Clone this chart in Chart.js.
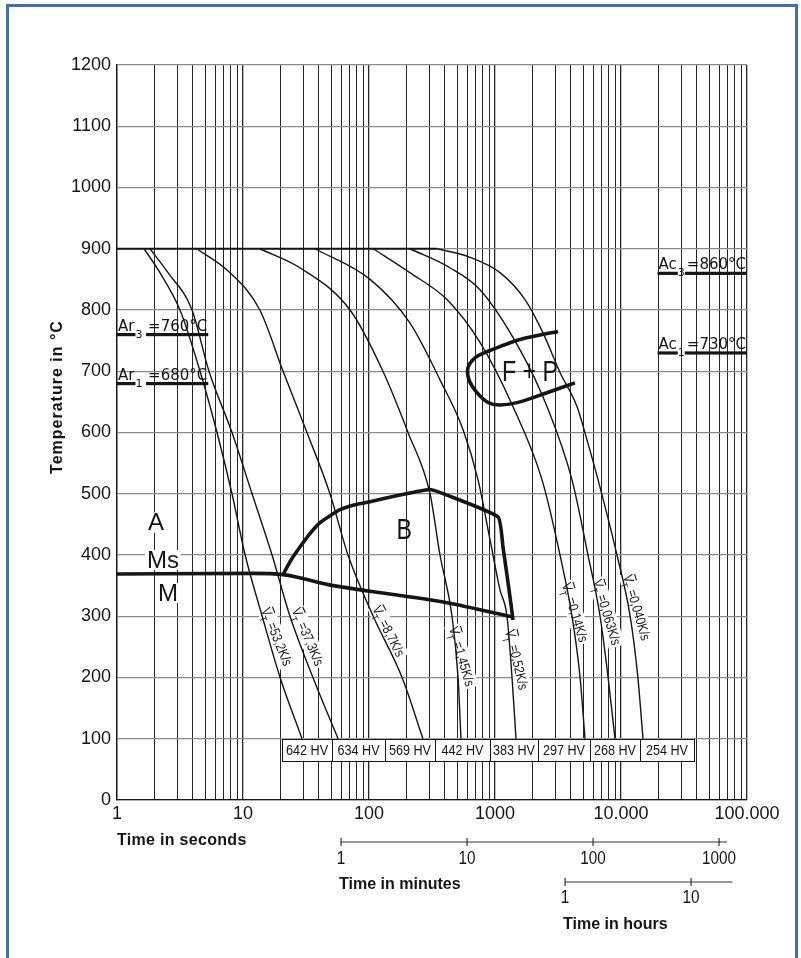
<!DOCTYPE html>
<html>
<head>
<meta charset="utf-8">
<script src="https://cdn.jsdelivr.net/npm/chart.js@4.4.1/dist/chart.umd.min.js"></script>
<style>
html, body { margin: 0; padding: 0; background: #fff; }
#wrap { position: relative; width: 801px; height: 958px; overflow: hidden; }
#frame { position: absolute; left: 6px; top: 4px; width: 792px; height: 990px; border: 3px solid #3f6fb5; box-sizing: border-box; pointer-events: none; }
</style>
</head>
<body>
<div id="wrap">
  <canvas id="cct"></canvas>
  <div id="frame"></div>
</div>
<script>
// axes
const xTicks = [1, 10, 100, 1000, 10000, 100000];
const xTickLabels = ['1', '10', '100', '1000', '10.000', '100.000'];
const yMax = 1200;
const yStep = 100;

// cooling curves: time in s, temperature in °C
const c1t = [1.64, 2.19, 3.16, 4.56, 6.22, 8.18, 10.4, 14.2, 19.7, 29.4];
const c1T = [900, 861, 800, 700, 600, 500, 400, 300, 200, 100];
const c2t = [1.83, 2.54, 3.94, 5.37, 8.18, 11.8, 17.0, 23.6, 35.9, 56.8];
const c2T = [900, 861, 800, 700, 600, 500, 400, 300, 200, 100];
const c3t = [4.31, 7.88, 13.6, 20.8, 32.2, 49.0, 68.1, 108, 183, 268];
const c3T = [900, 861, 800, 700, 600, 500, 400, 300, 200, 100];
const c4t = [13.6, 28.3, 70.7, 129, 204, 305, 366, 456, 509, 537];
const c4T = [900, 869, 800, 700, 600, 500, 400, 300, 200, 100];
const c5t = [37.3, 102, 211, 366, 557, 733, 913, 1096, 1245, 1364, 1468];
const c5T = [900, 850, 779, 686, 605, 523, 425, 343, 300, 201, 100];
const c6t = [108, 211, 416, 760, 1390, 2360, 3280, 4080, 4730, 5180];
const c6T = [900, 861, 817, 747, 642, 523, 400, 301, 201, 100];
const c7t = [211, 439, 760, 1580, 2590, 4080, 5470, 6810, 7890, 8960];
const c7T = [900, 869, 833, 735, 642, 523, 400, 301, 201, 100];
const c8t = [347, 634, 1096, 1730, 2400, 3280, 4480, 5370, 6570, 9290, 11800, 13600, 14950];
const c8T = [900, 886, 861, 817, 763, 698, 642, 588, 523, 400, 301, 201, 100];

// austenitising hold at 900 °C
const holdT = [1, 347];
const holdC = [900, 900];

// martensite start
const msT = [1, 12, 20.8, 52, 176, 416, 1364];
const msC = [369, 370, 368, 350, 334, 322, 299];

// bainite field boundary
const bT = [20.8, 23.6, 28.3, 34.0, 40.8, 49.0, 58.9, 77.4, 102, 176, 232, 305, 401, 1057, 1157, 1315, 1390];
const bC = [368, 389, 413, 435, 453, 464, 474, 482, 487, 498, 503, 507, 499, 462, 413, 332, 294];

// ferrite + pearlite field
const fpT = [3160, 1580, 864, 694, 611, 622, 720, 880, 1096, 1580, 2590, 4310];
const fpC = [765, 752, 732, 722, 706, 686, 665, 649, 645, 650, 665, 681];

// cooling rates and hardness
const rates = ['=53,2K/s', '=37,3K/s', '=8,7K/s', '=1,45K/s', '=0,52K/s', '=0,14K/s', '=0,063K/s', '=0,040K/s'];
const rateAtT = [18.3, 32.2, 141, 537, 1468, 4240, 7600, 13150];
const rateAtC = [266, 266, 275, 234, 229, 306, 306, 314];
const rateAngle = [68, 67, 63, 74, 77, 73, 73, 74];
const hardness = ['642 HV', '634 HV', '569 HV', '442 HV', '383 HV', '297 HV', '268 HV', '254 HV'];
const hvEdges = [20.4, 50.9, 134, 334, 913, 2190, 5670, 14150, 37950];
const hvTop = 100, hvBottom = 64;

// critical temperatures
const critName = ['Ar', 'Ar', 'Ac', 'Ac'];
const critSub = ['3', '1', '3', '1'];
const critText = ['=760°C', '=680°C', '=860°C', '=730°C'];
const critC = [760, 680, 860, 730];
const critFrom = [1, 1, 19500, 19500];
const critTo = [5.3, 5.3, 100000, 100000];

// phase letters
const phaseText = ['A', 'Ms', 'M'];
const phaseT = [2.04, 2.32, 2.54];
const phaseC = [453, 392, 338];
const bigText = ['B', 'F + P'];
const bigT = [190, 1896];
const bigC = [441, 699];

// secondary time scales
const minTicks = [1, 10, 100, 1000];
const minEnd = 1158;
const hourTicks = [1, 10];
const hourEnd = 21.3;

const SANS = '"Liberation Sans", Arial, sans-serif';
const INK = '#151515';

function pts(ts, cs) { return ts.map((t, i) => ({ x: t, y: cs[i] })); }

const curves = [[c1t, c1T], [c2t, c2T], [c3t, c3T], [c4t, c4T], [c5t, c5T], [c6t, c6T], [c7t, c7T], [c8t, c8T]];
const datasets = curves.map(c => ({
  data: pts(c[0], c[1]), borderColor: INK, borderWidth: 1.4,
  cubicInterpolationMode: 'monotone'
}));
datasets.push({ data: pts(holdT, holdC), borderColor: INK, borderWidth: 1.8, tension: 0 });
datasets.push({ data: pts(msT, msC), borderColor: INK, borderWidth: 3.6, cubicInterpolationMode: 'monotone' });
datasets.push({ data: pts(bT, bC), borderColor: INK, borderWidth: 3.6, tension: 0.15, borderJoinStyle: 'round' });
datasets.push({ data: pts(fpT, fpC), borderColor: INK, borderWidth: 3.6, tension: 0.3 });

// condensed text by squeezing the canvas horizontally
function narrow(ctx, txt, x, y, sx) {
  ctx.save();
  ctx.translate(x, y);
  ctx.scale(sx, 1);
  ctx.fillText(txt, 0, 0);
  ctx.restore();
}

function drawRate(ctx, px, py, ang, txt) {
  const sq = 0.82;
  ctx.save();
  ctx.translate(px, py);
  ctx.rotate(ang * Math.PI / 180);
  ctx.font = '14px ' + SANS;
  const wV = ctx.measureText('V').width * sq;
  const wR = ctx.measureText(txt).width * sq;
  ctx.font = '10px ' + SANS;
  const wT = ctx.measureText('T').width * sq;
  const total = wV + wT + 3 + wR;
  const sx = -total / 2;
  ctx.fillStyle = '#fff';
  ctx.fillRect(sx - 2, -9, total + 4, 17);
  ctx.fillStyle = INK;
  ctx.textAlign = 'left';
  ctx.textBaseline = 'middle';
  ctx.font = '14px ' + SANS;
  narrow(ctx, 'V', sx, 0, sq);
  ctx.fillRect(sx + 1, -8.5, wV - 1, 1.1);
  narrow(ctx, txt, sx + wV + wT + 3, 0, sq);
  ctx.font = '10px ' + SANS;
  narrow(ctx, 'T', sx + wV - 1, 6, sq);
  ctx.restore();
}

const overlay = {
  id: 'overlay',
  beforeDatasetsDraw(chart) {
    const { ctx, scales: { x, y } } = chart;
    ctx.save();
    // hardness boxes
    const top = y.getPixelForValue(hvTop), bot = y.getPixelForValue(hvBottom);
    hardness.forEach((h, i) => {
      const l = x.getPixelForValue(hvEdges[i]), r = x.getPixelForValue(hvEdges[i + 1]);
      ctx.fillStyle = '#fff';
      ctx.fillRect(l, top, r - l, bot - top);
      ctx.strokeStyle = INK; ctx.lineWidth = 1;
      ctx.strokeRect(Math.round(l) + 0.5, Math.round(top) + 0.5, Math.round(r - l), Math.round(bot - top));
      ctx.fillStyle = INK;
      ctx.font = '14px ' + SANS;
      ctx.textAlign = 'center'; ctx.textBaseline = 'middle';
      narrow(ctx, h, (l + r) / 2, (top + bot) / 2 + 1, 0.9);
    });
    // cooling rate labels
    rates.forEach((r, i) => {
      drawRate(ctx, x.getPixelForValue(rateAtT[i]), y.getPixelForValue(rateAtC[i]), rateAngle[i], r);
    });
    // A / Ms / M
    ctx.font = '24px ' + SANS;
    ctx.textAlign = 'center'; ctx.textBaseline = 'middle';
    phaseText.forEach((p, i) => {
      const px = x.getPixelForValue(phaseT[i]), py = y.getPixelForValue(phaseC[i]);
      const w = ctx.measureText(p).width;
      ctx.fillStyle = '#fff';
      ctx.fillRect(px - w / 2 - 2, py - 10, w + 4, 20);
      ctx.fillStyle = INK;
      ctx.fillText(p, px, py + 1);
    });
    ctx.restore();
  },
  afterDraw(chart) {
    const { ctx, chartArea: ca, scales: { x, y } } = chart;
    ctx.save();
    ctx.fillStyle = INK;
    ctx.strokeStyle = INK;
    // B and F + P
    ctx.font = '29px ' + SANS;
    ctx.textAlign = 'center'; ctx.textBaseline = 'middle';
    bigText.forEach((b, i) => narrow(ctx, b, x.getPixelForValue(bigT[i]), y.getPixelForValue(bigC[i]) + 1, 0.8));
    // critical temperatures
    critName.forEach((n, i) => {
      const xl = x.getPixelForValue(critFrom[i]), xr = x.getPixelForValue(critTo[i]);
      const py = y.getPixelForValue(critC[i]);
      ctx.textBaseline = 'alphabetic';
      ctx.font = '15px "DejaVu Sans", sans-serif';
      ctx.textAlign = 'left';
      ctx.fillText(n, xl + 1, py - 4);
      const wN = ctx.measureText(n).width;
      ctx.fillRect(xl, py - 1.5, wN + 2, 3.2);
      ctx.textAlign = 'right';
      ctx.fillText(critText[i], xr - 1, py - 4);
      const wR = ctx.measureText(critText[i]).width;
      ctx.fillRect(xr - wR - 3, py - 1.5, wR + 3, 3.2);
      ctx.font = '11px "DejaVu Sans", sans-serif';
      ctx.textAlign = 'left';
      ctx.fillText(critSub[i], xl + wN + 2, py + 3);
    });
    // axis titles
    ctx.font = 'bold 16px ' + SANS;
    ctx.textBaseline = 'middle';
    ctx.textAlign = 'left';
    ctx.letterSpacing = '0.3px';
    ctx.fillText('Time in seconds', ca.left, ca.bottom + 41);
    ctx.save();
    ctx.translate(ca.left - 59, ca.top + 332);
    ctx.rotate(-Math.PI / 2);
    ctx.textAlign = 'center';
    ctx.letterSpacing = '1px';
    ctx.fillText('Temperature in °C', 0, 0);
    ctx.restore();
    // minutes scale
    const my = ca.bottom + 42;
    const m0 = x.getPixelForValue(minTicks[0] * 60), m1 = x.getPixelForValue(minEnd * 60);
    ctx.lineWidth = 1.2;
    ctx.strokeStyle = '#333';
    ctx.beginPath(); ctx.moveTo(m0, my); ctx.lineTo(m1, my); ctx.stroke();
    ctx.font = '18px ' + SANS;
    ctx.textAlign = 'center';
    ctx.letterSpacing = '0px';
    minTicks.forEach(m => {
      const px = x.getPixelForValue(m * 60);
      ctx.beginPath(); ctx.moveTo(px, my - 4); ctx.lineTo(px, my + 4); ctx.stroke();
      narrow(ctx, String(m), px, my + 17, 0.85);
    });
    ctx.font = 'bold 16px ' + SANS;
    ctx.textAlign = 'left';
    ctx.fillText('Time in minutes', m0 - 2, my + 43);
    // hours scale
    const hy = ca.bottom + 82;
    const h0 = x.getPixelForValue(hourTicks[0] * 3600), h1 = x.getPixelForValue(hourEnd * 3600);
    ctx.beginPath(); ctx.moveTo(h0, hy); ctx.lineTo(h1, hy); ctx.stroke();
    ctx.font = '18px ' + SANS;
    ctx.textAlign = 'center';
    hourTicks.forEach(h => {
      const px = x.getPixelForValue(h * 3600);
      ctx.beginPath(); ctx.moveTo(px, hy - 4); ctx.lineTo(px, hy + 4); ctx.stroke();
      narrow(ctx, String(h), px, hy + 16, 0.85);
    });
    ctx.font = 'bold 16px ' + SANS;
    ctx.textAlign = 'left';
    ctx.fillText('Time in hours', h0 - 2, hy + 43);
    ctx.restore();
  }
};

new Chart(document.getElementById('cct'), {
  type: 'scatter',
  data: { datasets },
  options: {
    responsive: true,
    maintainAspectRatio: false,
    animation: false,
    showLine: true,
    elements: { point: { radius: 0, hoverRadius: 0 } },
    layout: { padding: { left: 0, top: 65, right: 54, bottom: 0 } },
    plugins: { legend: { display: false }, tooltip: { enabled: false } },
    scales: {
      x: {
        type: 'logarithmic',
        min: 1, max: 100000,
        afterBuildTicks: s => {
          const t = [];
          for (let e = 0; e < 5; e++) for (let m = 1; m < 10; m++) t.push({ value: m * Math.pow(10, e) });
          t.push({ value: 100000 });
          s.ticks = t;
        },
        afterFit: s => { s.height = 158; },
        ticks: {
          autoSkip: false, maxRotation: 0, padding: 3,
          color: INK, font: { family: SANS, size: 18 },
          callback: v => { const i = xTicks.indexOf(v); return i >= 0 ? xTickLabels[i] : ''; }
        },
        grid: {
          drawTicks: false,
          color: '#262626',
          lineWidth: c => (c.tick && xTicks.includes(c.tick.value)) ? 1.3 : 1
        },
        border: { color: INK, width: 1.3 }
      },
      y: {
        min: 0, max: yMax,
        afterFit: s => { s.width = 117; },
        ticks: {
          stepSize: yStep, padding: 6, color: INK, font: { family: SANS, size: 18 },
          callback: v => String(v)
        },
        grid: { drawTicks: false, color: '#8a8a8a', lineWidth: 1.3 },
        border: { color: INK, width: 1.3 }
      }
    }
  },
  plugins: [overlay]
});
</script>
</body>
</html>
